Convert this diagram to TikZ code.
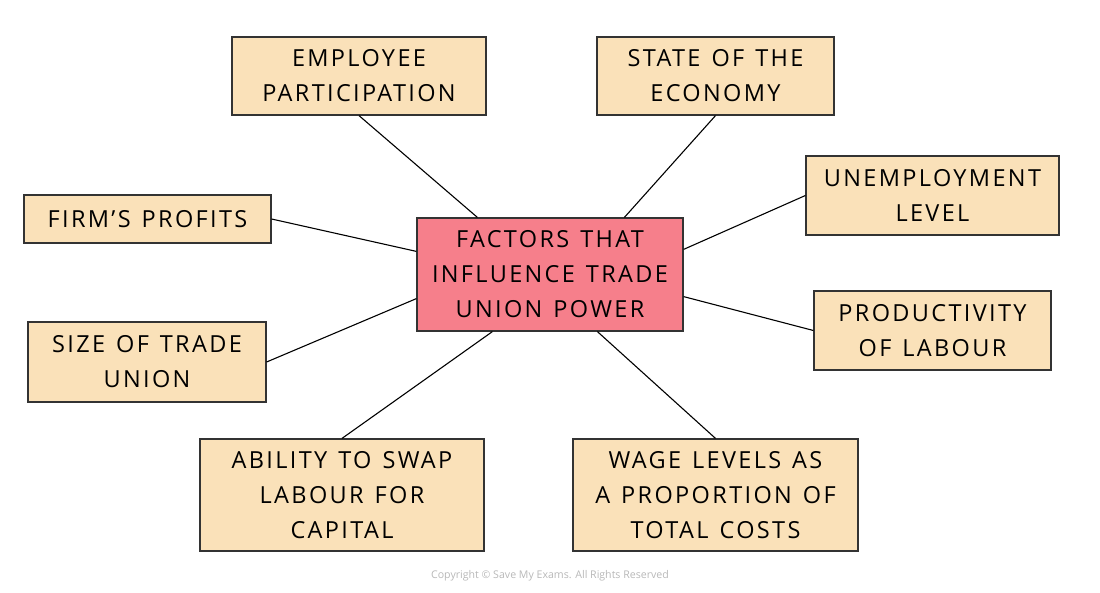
\documentclass[tikz,border=0pt]{standalone}
\usepackage{fontspec}
\newfontfamily\boxfont[LetterSpace=10,WordSpace=1.3]{Open Sans}
\newfontfamily\smallfont{Open Sans}
\definecolor{tanfill}{HTML}{FAE1B9}
\definecolor{pinkfill}{HTML}{F67F8B}
\definecolor{edge}{HTML}{333333}
\definecolor{copygray}{HTML}{B8B8B8}
\tikzset{
  box/.style={draw=edge, line width=1.2pt, fill=tanfill, align=center, inner sep=0pt,
    font=\fontsize{23.5}{35}\selectfont\boxfont, text=black},
  hub/.style={box, fill=pinkfill},
  conn/.style={draw=black, line width=1.1pt}
}
\begin{document}
\begin{tikzpicture}[x=1pt,y=-1pt]
\useasboundingbox (0,0) rectangle (1100,593);
\node[hub, minimum width=266pt, minimum height=113pt] (c) at (550,274.5) {FACTORS THAT\\INFLUENCE TRADE\\UNION POWER};
\node[box, minimum width=254pt, minimum height=78pt] (emp) at (359,76) {EMPLOYEE\\PARTICIPATION};
\node[box, minimum width=237pt, minimum height=78pt] (st) at (715.5,76) {STATE OF THE\\ECONOMY};
\node[box, minimum width=253pt, minimum height=79pt] (un) at (932.5,195.5) {UNEMPLOYMENT\\LEVEL};
\node[box, minimum width=247pt, minimum height=48pt] (firm) at (147.5,219) {FIRM’S PROFITS};
\node[box, minimum width=238pt, minimum height=80pt] (size) at (147,362) {SIZE OF TRADE\\UNION};
\node[box, minimum width=237pt, minimum height=79pt] (prod) at (932.5,330.5) {PRODUCTIVITY\\OF LABOUR};
\node[box, minimum width=284pt, minimum height=112pt] (abil) at (342,495) {ABILITY TO SWAP\\LABOUR FOR\\CAPITAL};
\node[box, minimum width=285pt, minimum height=112pt] (wage) at (715.5,495) {WAGE LEVELS AS\\A PROPORTION OF\\TOTAL COSTS};
\draw[conn] (emp.south) -- ([xshift=61pt]c.north west);
\draw[conn] (st.south) -- ([xshift=208pt]c.north west);
\draw[conn] (un.west) -- ([yshift=-32pt]c.north east);
\draw[conn] (firm.east) -- ([yshift=-34pt]c.north west);
\draw[conn] (size.east) -- ([yshift=33pt]c.south west);
\draw[conn] (prod.west) -- ([yshift=35pt]c.south east);
\draw[conn] (abil.north) -- ([xshift=76pt]c.south west);
\draw[conn] (wage.north) -- ([xshift=181pt]c.south west);
\node[font=\fontsize{10.6}{12}\selectfont\smallfont, text=copygray, inner sep=0pt] (copy) at (550,576) {Copyright © Save My Exams. All Rights Reserved};
\end{tikzpicture}
\end{document}
